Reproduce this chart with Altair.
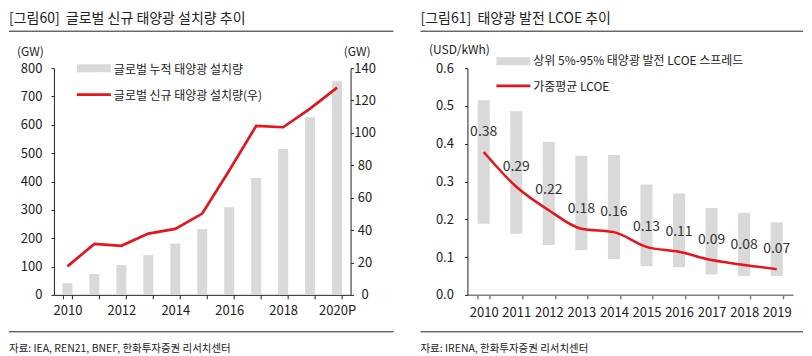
import json
import altair as alt
import pandas as pd

FONT = "Noto Sans CJK KR"
TXT = "#222222"
GRAY = "#d9d9d9"
RED = "#e8141c"
NB = "\u00a0"

# ---- left chart data ----
years_left = ["2010", "2011", "2012", "2013", "2014", "2015", "2016", "2017", "2018", "2019", "2020P"]
cumulative_gw = [41, 73, 105, 140, 181, 232, 309, 412, 515, 627, 754]
new_gw = [17.6, 31.5, 30.3, 37.8, 40.7, 50.2, 76.8, 104.4, 103.5, 115.0, 128.0]
shown_year_labels = ["2010", "2012", "2014", "2016", "2018", "2020P"]
left_ticks = [0, 100, 200, 300, 400, 500, 600, 700, 800]
right_ticks = [0, 20, 40, 60, 80, 100, 120, 140]

# ---- right chart data ----
years_right = ["2010", "2011", "2012", "2013", "2014", "2015", "2016", "2017", "2018", "2019"]
lcoe_low = [0.188, 0.162, 0.132, 0.118, 0.095, 0.076, 0.073, 0.054, 0.050, 0.050]
lcoe_high = [0.515, 0.486, 0.405, 0.368, 0.370, 0.292, 0.268, 0.230, 0.217, 0.192]
lcoe_weighted = [0.378, 0.286, 0.224, 0.175, 0.166, 0.127, 0.114, 0.092, 0.079, 0.068]
lcoe_labels = ["0.38", "0.29", "0.22", "0.18", "0.16", "0.13", "0.11", "0.09", "0.08", "0.07"]
lcoe_ticks = [0.0, 0.1, 0.2, 0.3, 0.4, 0.5, 0.6]


def text(t, x, y, size=12, align="left", baseline="middle", color=TXT):
    return alt.Chart(pd.DataFrame({"t": [t]})).mark_text(
        font=FONT, fontSize=size, align=align, baseline=baseline, color=color
    ).encode(x=alt.value(x), y=alt.value(y), text="t:N")


def rule(x1, x2, y, color="#222222", width=1.0):
    return alt.Chart(pd.DataFrame({"a": [0]})).mark_rule(
        color=color, strokeWidth=width
    ).encode(x=alt.value(x1), x2=alt.value(x2), y=alt.value(y))


def box(x1, x2, y1, y2, color, opacity=1.0):
    return alt.Chart(pd.DataFrame({"a": [0]})).mark_rect(
        color=color, opacity=opacity
    ).encode(x=alt.value(x1), x2=alt.value(x2), y=alt.value(y1), y2=alt.value(y2))


# ================= LEFT PANEL =================
left_df = pd.DataFrame({"year": years_left, "cum": cumulative_gw, "new": new_gw})
label_expr = "indexof(" + json.dumps(shown_year_labels) + ", datum.label) >= 0 ? datum.label : ''"

xl = alt.X(
    "year:N", sort=years_left,
    scale=alt.Scale(paddingInner=0.63, paddingOuter=0.315),
    axis=alt.Axis(title=None, labelAngle=0, tickBand="extent", labelExpr=label_expr,
                  labelPadding=5.5, tickSize=4, domainColor="#222222", tickColor="#222222"),
)

bars = alt.Chart(left_df).mark_bar(color=GRAY).encode(
    x=xl,
    y=alt.Y("cum:Q", scale=alt.Scale(domain=[0, 800], nice=False),
            axis=alt.Axis(title=None, orient="left", values=left_ticks, tickSize=3,
                          labelPadding=9, labelOverlap=False)),
)
new_line = alt.Chart(left_df).mark_line(color=RED, strokeWidth=2.7).encode(
    x=xl,
    y=alt.Y("new:Q", scale=alt.Scale(domain=[0, 140], nice=False),
            axis=alt.Axis(title=None, orient="right", values=right_ticks, tickSize=3,
                          labelPadding=11, labelAlign="center", labelOverlap=False)),
)

left_ann = [
    box(-45, -44, -60, -59, "#ffffff", opacity=0.0),
    text("[그림60]" + NB + NB + "글로벌 신규 태양광 설치량 추이", -45, -49, size=14),
    rule(-45, 340, -37),
    text("(GW)", -23.5, -16, size=12, align="center"),
    text("(GW)", 303.5, -16, size=12, align="center"),
    box(23, 57, -4, 4, GRAY),
    text("글로벌" + NB + "누적" + NB + "태양광" + NB + "설치량", 60, 2, size=12),
    rule(23, 57, 26.5, color=RED, width=2.7),
    text("글로벌" + NB + "신규" + NB + "태양광" + NB + "설치량(우)", 60, 28, size=12),
    rule(-45, 340, 264),
    text("자료: IEA, REN21, BNEF, 한화투자증권 리서치센터", -45, 281, size=10.5),
]

left = alt.layer(bars, new_line, *left_ann).resolve_scale(y="independent").properties(
    width=297, height=227
)

# ================= RIGHT PANEL =================
right_df = pd.DataFrame({
    "year": years_right, "lo": lcoe_low, "hi": lcoe_high,
    "avg": lcoe_weighted, "lbl": lcoe_labels,
})

xr = alt.X(
    "year:N", sort=years_right,
    scale=alt.Scale(paddingInner=0.63, paddingOuter=0.315),
    axis=alt.Axis(title=None, labelAngle=0, tickBand="extent", labelPadding=7.5, tickSize=4,
                  domainColor="#7f7f7f", tickColor="#7f7f7f", domainWidth=1.5, tickWidth=1.5),
)
yscale = alt.Scale(domain=[0, 0.6], nice=False)
yaxis_r = alt.Axis(title=None, values=lcoe_ticks, format=".1f", tickSize=3,
                   labelPadding=11, labelOverlap=False)

spread = alt.Chart(right_df).mark_bar(color=GRAY).encode(
    x=xr,
    y=alt.Y("lo:Q", scale=yscale, axis=yaxis_r),
    y2="hi:Q",
)
avg_line = alt.Chart(right_df).mark_line(color=RED, strokeWidth=2.5, interpolate="monotone").encode(
    x=xr, y=alt.Y("avg:Q", scale=yscale, axis=yaxis_r)
)
avg_labels = alt.Chart(right_df).mark_text(
    font=FONT, fontSize=14, color="#333333", dy=-20, baseline="middle"
).encode(x=xr, y=alt.Y("avg:Q", scale=yscale, axis=yaxis_r), text="lbl:N")

right_ann = [
    text("[그림61]" + NB + NB + "태양광 발전 LCOE 추이", -47, -49, size=14),
    rule(-47, 336, -37),
    text("(USD/kWh)", -8, -18, size=12, align="center"),
    box(29, 63, -11, -3, GRAY),
    text("상위 5%-95% 태양광 발전 LCOE 스프레드", 66, -7, size=12),
    rule(29, 63, 17.7, color=RED, width=2.7),
    text("가중평균 LCOE", 66, 18.7, size=12),
    rule(-47, 336, 264),
    text("자료: IRENA, 한화투자증권 리서치센터", -47, 281, size=10.5),
]

right = alt.layer(spread, avg_line, avg_labels, *right_ann).properties(width=326, height=227)

chart = alt.hconcat(left, right, spacing=117, bounds="flush").properties(
    padding=0
).configure_view(stroke=None).configure_axis(
    grid=False, labelFont=FONT, labelFontSize=13, labelColor=TXT,
    domainColor="#222222", tickColor="#222222",
)

chart.save("out.html", embed_options={"renderer": "svg", "actions": False})
